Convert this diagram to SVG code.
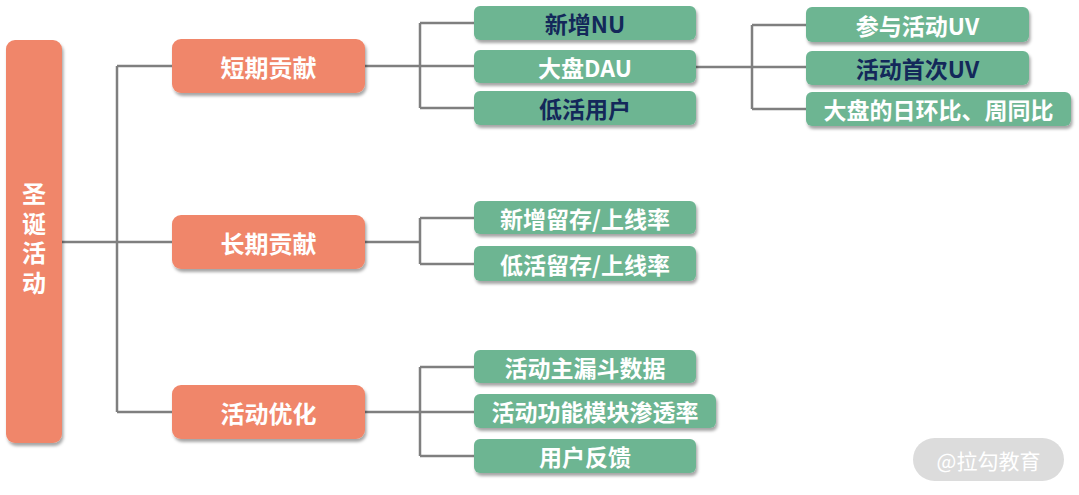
<svg xmlns="http://www.w3.org/2000/svg" width="1079" height="495" viewBox="0 0 1079 495">
<defs>
<filter id="sh" x="-10%" y="-20%" width="130%" height="160%">
<feDropShadow dx="1.5" dy="3" stdDeviation="1.8" flood-color="#000" flood-opacity="0.35"/>
</filter>
<style>
.o{fill:#F0866A;filter:url(#sh)}
.g{fill:#6DB592;filter:url(#sh)}
text{font-family:"Noto Sans CJK SC","Noto Sans",sans-serif;font-weight:bold;text-anchor:middle;dominant-baseline:central}
.w{fill:#fff}
.n{fill:#13285a}
.l1{font-size:24px}
.l2{font-size:23px}
.c{fill:none;stroke:#7f7f7f;stroke-width:2.5}
</style>
</defs>
<rect width="1079" height="495" fill="#fff"/>
<g id="connectors">
<path class="c" d="M62 242H117M117 66V412M117 66H172M117 242H172M117 412H172"/>
<path class="c" d="M365 66H474M420 23V108M420 23H474M420 108H474"/>
<path class="c" d="M365 242H420M420 218V264M420 218H474M420 264H474"/>
<path class="c" d="M365 412H474M420 367V456M420 367H474M420 456H474"/>
<path class="c" d="M696 67H806M752 25V109M752 25H806M752 109H806"/>
</g>
<g id="root">
<rect class="o" x="6" y="40" width="56" height="403" rx="9"/>
<text class="w l1" x="34" y="241" writing-mode="tb" letter-spacing="5.5" style="dominant-baseline:central">圣诞活动</text>
</g>
<g id="short"><rect class="o" x="172" y="39" width="193" height="54" rx="9"/><text class="w l1" x="268.5" y="66">短期贡献</text></g>
<g id="long"><rect class="o" x="172" y="215" width="193" height="54" rx="9"/><text class="w l1" x="268.5" y="242">长期贡献</text></g>
<g id="opt"><rect class="o" x="172" y="385" width="193" height="54" rx="9"/><text class="w l1" x="268.5" y="412">活动优化</text></g>
<g id="nu"><rect class="g" x="474" y="6" width="222" height="34" rx="6"/><text class="n l2" x="585" y="23">新增NU</text></g>
<g id="dau"><rect class="g" x="474" y="50" width="222" height="33" rx="6"/><text class="w l2" x="585" y="66.5">大盘DAU</text></g>
<g id="low"><rect class="g" x="474" y="91" width="222" height="34" rx="6"/><text class="n l2" x="585" y="108">低活用户</text></g>
<g id="uv1"><rect class="g" x="806" y="7" width="223" height="35" rx="6"/><text class="w l2" x="917.5" y="24.5">参与活动UV</text></g>
<g id="uv2"><rect class="g" x="806" y="51" width="223" height="34" rx="6"/><text class="n l2" x="917.5" y="68">活动首次UV</text></g>
<g id="ratio"><rect class="g" x="806" y="92" width="265" height="34" rx="6"/><text class="w l2" x="938.5" y="109">大盘的日环比、周同比</text></g>
<g id="ret1"><rect class="g" x="474" y="201" width="222" height="33" rx="6"/><text class="w l2" x="585" y="217.5">新增留存/上线率</text></g>
<g id="ret2"><rect class="g" x="474" y="246" width="222" height="35" rx="6"/><text class="w l2" x="585" y="263.5">低活留存/上线率</text></g>
<g id="funnel"><rect class="g" x="474" y="350" width="222" height="33" rx="6"/><text class="w l2" x="585" y="366.5">活动主漏斗数据</text></g>
<g id="pen"><rect class="g" x="474" y="394" width="242" height="34" rx="6"/><text class="w l2" x="595" y="411">活动功能模块渗透率</text></g>
<g id="fb"><rect class="g" x="474" y="439" width="222" height="34" rx="6"/><text class="w l2" x="585" y="456">用户反馈</text></g>
<g id="watermark"><rect x="913" y="438" width="151" height="43" rx="21.5" fill="#dcdcdc"/><text x="988.5" y="459.5" style="font-size:21px;font-weight:normal;fill:#fff">@拉勾教育</text></g>
</svg>
